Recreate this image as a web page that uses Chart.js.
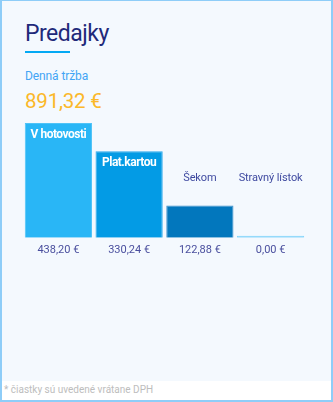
<!DOCTYPE html>
<html>
<head>
<meta charset="utf-8">
<script src="https://cdn.jsdelivr.net/npm/chart.js@4"></script>
<style>
  html, body { margin: 0; padding: 0; }
  body { width: 333px; height: 402px; font-family: Roboto, sans-serif; background: #fff; }
  .card { position: relative; box-sizing: border-box; width: 333px; height: 402px;
          border: 2px solid #8ecdf8; border-top-width: 1px; background: #f4f9fe; overflow: hidden; }
  .title { position: absolute; left: 23px; top: 19px; font-size: 23px; color: #1f2a7a; letter-spacing: -0.5px; }
  .underline { position: absolute; left: 23px; top: 50px; width: 45px; height: 2px; background: #03a9f4; }
  .sub { position: absolute; left: 23px; top: 68px; font-size: 12px; color: #42a5f5; letter-spacing: -0.1px; }
  .total { position: absolute; left: 23px; top: 88px; font-size: 20.5px; color: #fbb829; letter-spacing: -0.2px; }
  .chart { position: absolute; left: 21px; top: 108px; width: 283px; height: 165px; }
  .footer { position: absolute; left: 0; right: 0; bottom: 0; height: 19px; background: #fff;
            font-size: 10px; color: #bdbdbd; padding-left: 2px; line-height: 18px; }
</style>
</head>
<body>
<div class="card">
  <div class="title">Predajky</div>
  <div class="underline"></div>
  <div class="sub">Denná tržba</div>
  <div class="total" id="total"></div>
  <div class="chart"><canvas id="c" width="283" height="165"></canvas></div>
  <div class="footer">* čiastky sú uvedené vrátane DPH</div>
</div>
<script>
const categories = ['V hotovosti', 'Plat.kartou', 'Šekom', 'Stravný lístok'];
const values = [438.20, 330.24, 122.88, 0.00];
const barColors = ['#29b6f6', '#039be5', '#0277bd', '#81d4fa'];
const borderColors = ['#4fc3f7', '#29a9ec', '#3a8fcc', '#81d4fa'];

const fmt = v => v.toFixed(2).replace('.', ',') + ' €';
document.getElementById('total').textContent = fmt(values.reduce((a, b) => a + b, 0));

// category names: inside the bar when it is tall enough, otherwise above it
const namePlugin = {
  id: 'names',
  afterDatasetsDraw(chart) {
    const ctx = chart.ctx;
    const meta = chart.getDatasetMeta(0);
    ctx.save();
    ctx.textAlign = 'center';
    ctx.textBaseline = 'middle';
    meta.data.forEach((bar, i) => {
      const h = bar.base - bar.y;
      if (h > 40) {
        ctx.font = 'bold 12px Roboto';
        ctx.letterSpacing = '-0.5px';
        ctx.fillStyle = '#ffffff';
        ctx.fillText(categories[i], bar.x, bar.y + 12);
      } else {
        ctx.font = '11px Roboto';
        ctx.letterSpacing = '-0.1px';
        ctx.fillStyle = '#3f4aa0';
        ctx.fillText(categories[i], bar.x, chart.chartArea.top + 55);
      }
    });
    ctx.restore();
  }
};

new Chart(document.getElementById('c'), {
  type: 'bar',
  data: {
    labels: values.map(fmt),
    datasets: [{
      data: values,
      backgroundColor: barColors,
      borderColor: borderColors,
      borderWidth: 1,
      minBarLength: 2,
      barPercentage: 0.95,
      categoryPercentage: 1
    }]
  },
  options: {
    responsive: false,
    animation: false,
    layout: { padding: { top: 14, bottom: 11, left: 0, right: 0 } },
    plugins: { legend: { display: false }, tooltip: { enabled: false } },
    scales: {
      x: {
        grid: { display: false, drawTicks: false },
        border: { display: false },
        ticks: { color: '#4a4f9e', font: { family: 'Roboto', size: 11 }, padding: 6 }
      },
      y: {
        display: false,
        min: 0,
        max: Math.max(...values)
      }
    }
  },
  plugins: [namePlugin]
});
</script>
</body>
</html>
